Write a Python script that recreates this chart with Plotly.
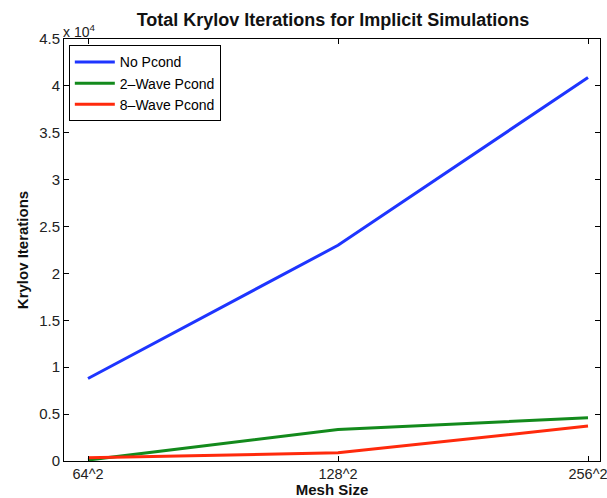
import plotly.graph_objects as go

categories = ["64^2", "128^2", "256^2"]
x_pos = [1, 2, 3]
no_pcond = [8800, 23000, 40900]
wave2_pcond = [100, 3350, 4600]
wave8_pcond = [350, 880, 3720]
ytick_vals = [0, 5000, 10000, 15000, 20000, 25000, 30000, 35000, 40000, 45000]
ytick_text = ["0", "0.5", "1", "1.5", "2", "2.5", "3", "3.5", "4", "4.5"]

font_family = "Liberation Sans, Arial, Helvetica, sans-serif"

fig = go.Figure()
fig.add_trace(go.Scatter(x=x_pos, y=no_pcond, mode="lines", name="No Pcond",
                         line=dict(color="#1e35ff", width=3)))
fig.add_trace(go.Scatter(x=x_pos, y=wave2_pcond, mode="lines", name="2\u2013Wave Pcond",
                         line=dict(color="#138a1c", width=3)))
fig.add_trace(go.Scatter(x=x_pos, y=wave8_pcond, mode="lines", name="8\u2013Wave Pcond",
                         line=dict(color="#ff2a0c", width=3)))

fig.update_layout(
    width=607, height=498,
    margin=dict(l=64, r=7, t=39, b=37, autoexpand=False),
    paper_bgcolor="white", plot_bgcolor="white",
    font=dict(family=font_family, size=15, color="black"),
    showlegend=True,
    title=dict(text="<b>Total Krylov Iterations for Implicit Simulations</b>",
               x=333 / 607, xanchor="center", y=1 - 19.5 / 498, yanchor="middle",
               font=dict(size=18, family=font_family, color="#111")),
    legend=dict(x=0.009, y=0.985, xanchor="left", yanchor="top",
                bgcolor="white", bordercolor="black", borderwidth=1,
                font=dict(size=14, family=font_family),
                tracegroupgap=0, itemwidth=40),
    xaxis=dict(range=[0.904, 3.048], tickvals=x_pos, ticktext=categories,
               automargin=False,
               showgrid=False, zeroline=False, showline=True, linecolor="black",
               linewidth=1, mirror="ticks", ticks="inside", ticklen=5,
               tickcolor="black", tickfont=dict(size=14.5, color="#222"),
               ticklabeloverflow="allow",
               title=dict(text="<b>Mesh Size</b>", font=dict(size=15, color="#111"), standoff=4)),
    yaxis=dict(range=[0, 45000], tickvals=ytick_vals, ticktext=ytick_text,
               automargin=False,
               showgrid=False, zeroline=False, showline=True, linecolor="black",
               linewidth=1, mirror="ticks", ticks="inside", ticklen=5,
               tickcolor="black", tickfont=dict(size=15, color="#222"),
               title=dict(text="<b>Krylov Iterations</b>", font=dict(size=15, color="#111"), standoff=6)),
)

fig.add_annotation(text="x 10<sup>4</sup>", xref="paper", yref="paper",
                   x=0.0, y=1.0, xanchor="left", yanchor="bottom", showarrow=False,
                   font=dict(size=14, family=font_family, color="#222"),
                   xshift=-3, yshift=-3)

fig.write_html("out.html")
